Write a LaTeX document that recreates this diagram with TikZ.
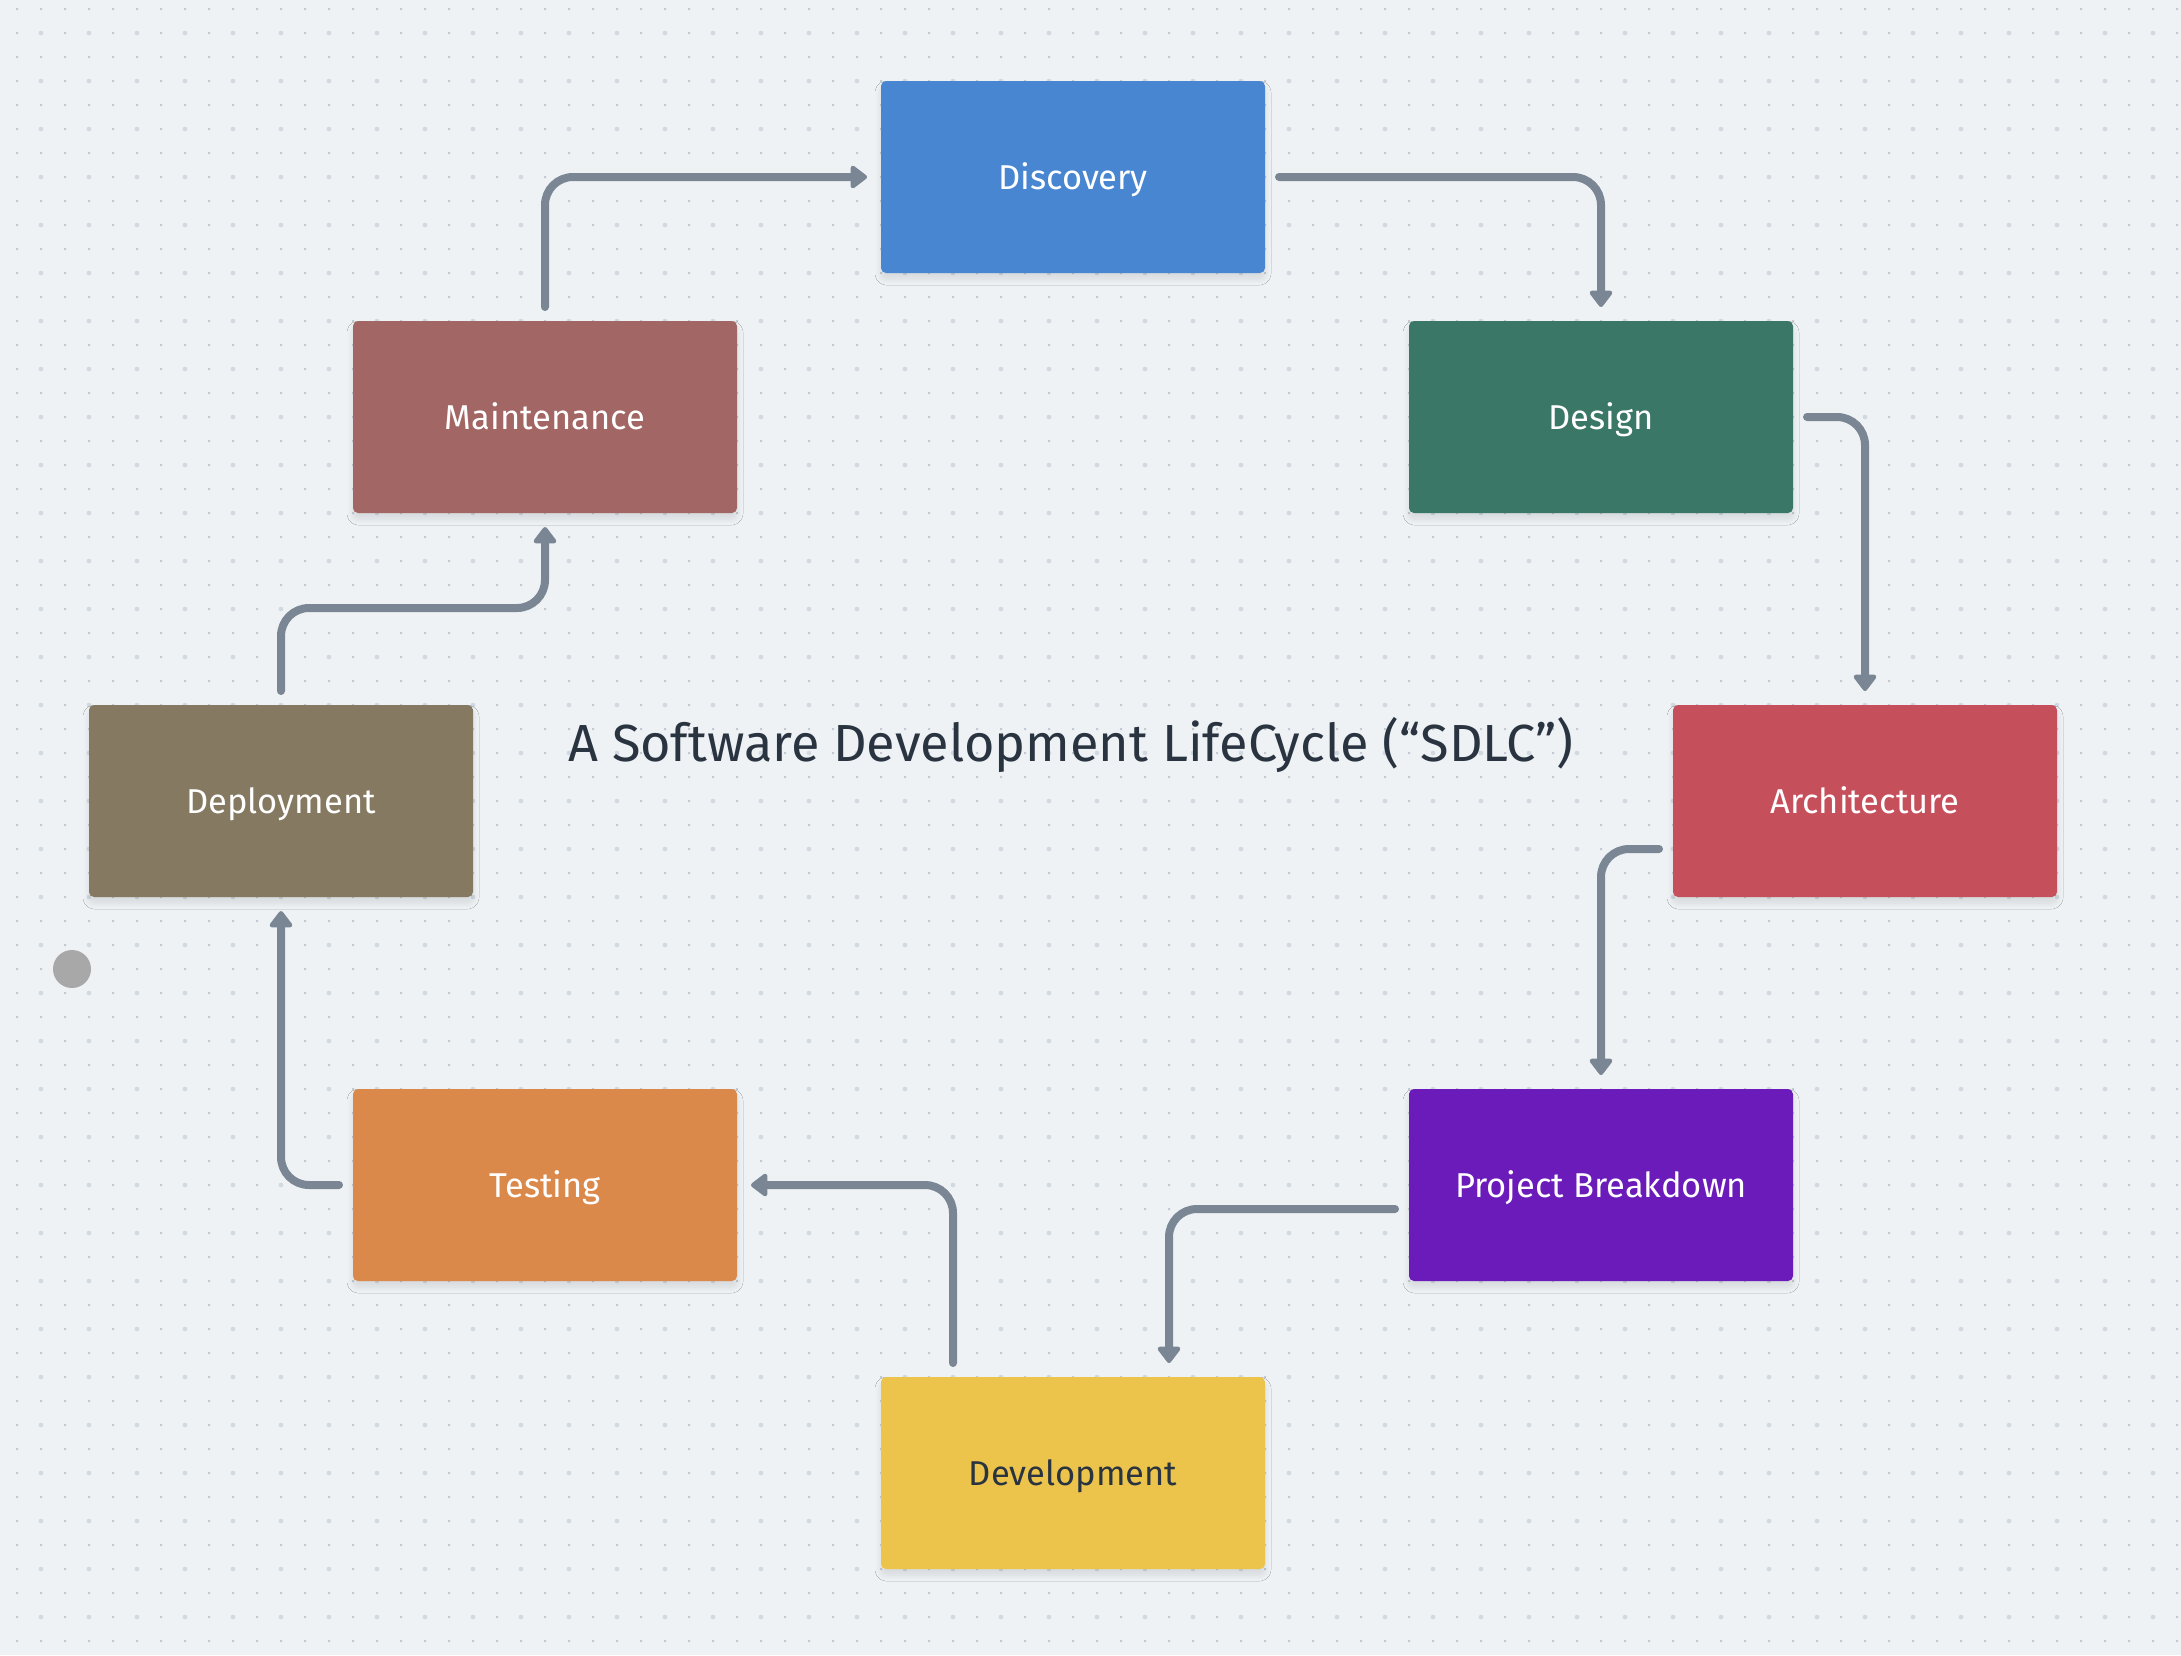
\documentclass[tikz,border=0pt]{standalone}
\usepackage{fontspec}
\setmainfont{Fira Sans}
\usetikzlibrary{arrows.meta,shadows.blur,calc}
\definecolor{bgcol}{HTML}{EEF2F5}
\definecolor{dotsmall}{HTML}{C3CAD2}
\definecolor{dotbig}{HTML}{D0D8E1}
\definecolor{conncol}{HTML}{7A8694}
\definecolor{darktext}{HTML}{2A3441}
\definecolor{cDis}{HTML}{4886D2}
\definecolor{cDes}{HTML}{3B7767}
\definecolor{cArc}{HTML}{C5505C}
\definecolor{cPB}{HTML}{6A1BBA}
\definecolor{cDev}{HTML}{ECC44B}
\definecolor{cTes}{HTML}{DB894A}
\definecolor{cDep}{HTML}{857961}
\definecolor{cMai}{HTML}{A26664}
\definecolor{cDot}{HTML}{A8A8A8}
\tikzset{
  stagebox/.style={rectangle, rounded corners=5pt, minimum width=384pt, minimum height=192pt,
    inner sep=0pt, outer sep=0pt, text=white, font=\fontsize{34.5}{41}\selectfont,
    text height=24pt, text depth=0pt,
    blur shadow={shadow xshift=0pt, shadow yshift=-6pt, shadow blur radius=6pt, shadow opacity=10, shadow blur steps=8}},
  conn/.style={draw=conncol, line width=8pt, line cap=round, rounded corners=28pt,
    -{Triangle[length=18pt,width=26pt,round]}},
}
\begin{document}
\begin{tikzpicture}[x=1pt,y=-1pt]
\useasboundingbox (0,0) rectangle (2181,1655);
\fill[bgcol] (0,0) rectangle (2181,1655);
% dot grid
\fill[dotsmall] \foreach \i in {0,...,90}{\foreach \j in {0,...,68}{ ({17+24*\i-1},{9+24*\j-1}) rectangle ++(2,2) }};
\fill[dotbig] \foreach \i in {0,...,44}{\foreach \j in {0,...,33}{ ({41+48*\i},{33+48*\j}) circle (2.3) }};
% stages
\node[stagebox, fill=cDis] (dis) at (1073,177) {Discovery};
\node[stagebox, fill=cMai] (mai) at (545,417) {Maintenance};
\node[stagebox, fill=cDes] (des) at (1601,417) {Design};
\node[stagebox, fill=cDep] (dep) at (281,801) {Deployment};
\node[stagebox, fill=cArc] (arc) at (1865,801) {Architecture};
\node[stagebox, fill=cTes] (tes) at (545,1185) {Testing};
\node[stagebox, fill=cPB] (pb) at (1601,1185) {Project Breakdown};
\node[stagebox, fill=cDev, text=darktext] (dev) at (1073,1473) {Development};
% title
\node[anchor=base, text=darktext, font=\fontsize{52.2}{63}\selectfont, inner sep=0pt] (title) at (1071,761) {A Software Development LifeCycle (“SDLC”)};
% grey dot
\node[circle, fill=cDot, minimum size=38pt, inner sep=0pt] (gdot) at (72,969) {};
% connectors
\coordinate (b8) at (545,608);
\draw[conn] ([yshift=14pt]mai.north) |- ([xshift=-14pt]dis.west);
\draw[conn] ([xshift=14pt]dis.east) -| ([yshift=14pt]des.north);
\draw[conn] ([xshift=14pt]des.east) -| ([yshift=14pt]arc.north);
\draw[conn] ([xshift=-14pt,yshift=-48pt]arc.west) -| ([yshift=14pt]pb.north);
\draw[conn] ([xshift=-14pt,yshift=-24pt]pb.west) -| ([xshift=96pt,yshift=14pt]dev.north);
\draw[conn] ([xshift=-120pt,yshift=14pt]dev.north) |- ([xshift=14pt]tes.east);
\draw[conn] ([xshift=-14pt]tes.west) -| ([yshift=-14pt]dep.south);
\draw[conn] ([yshift=14pt]dep.north) |- (b8) -- ([yshift=-14pt]mai.south);
\end{tikzpicture}
\end{document}
